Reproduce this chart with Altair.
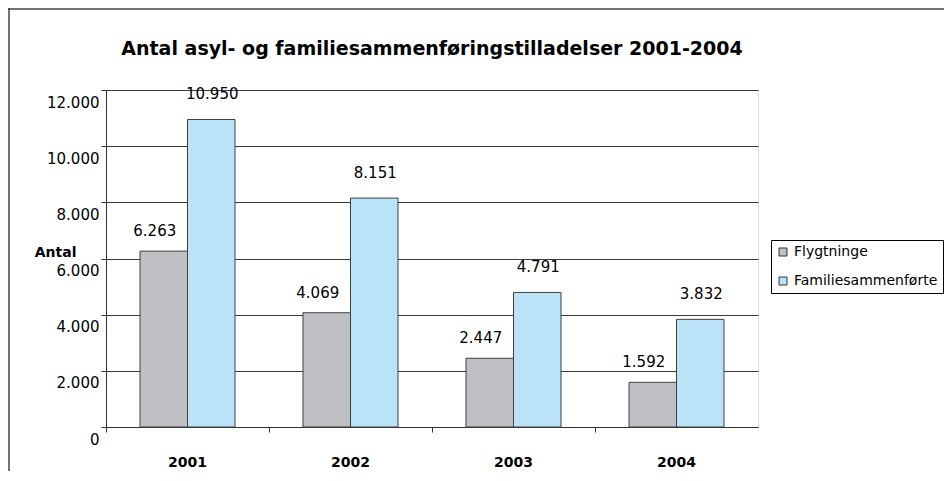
import altair as alt
import pandas as pd

years = ["2001", "2002", "2003", "2004"]
series = ["Flygtninge", "Familiesammenførte"]
flygtninge = [6263, 4069, 2447, 1592]
familie = [10950, 8151, 4791, 3832]
colors = ["#c0c0c4", "#bbe3f7"]
y_ticks = [0, 2000, 4000, 6000, 8000, 10000, 12000]
title_text = "Antal asyl- og familiesammenføringstilladelser 2001-2004"

rows = []
for i, yr in enumerate(years):
    for s, vals in zip(series, [flygtninge, familie]):
        rows.append({"year": yr, "serie": s, "value": vals[i],
                     "label": f"{vals[i]:,}".replace(",", ".")})
df = pd.DataFrame(rows)

W, H = 652, 337
PAD = {"left": 98, "top": 82, "right": 186, "bottom": 44}
FONT = "DejaVu Sans"

x_enc = alt.X("year:N", sort=years,
              scale=alt.Scale(domain=years, paddingInner=0, paddingOuter=0),
              axis=alt.Axis(title=None, labelFont=FONT, labelFontSize=14,
                            labelFontWeight="bold", labelColor="#000",
                            labelAngle=0, labelPadding=23, tickSize=5,
                            bandPosition=0,
                            domainColor="#333", tickColor="#333", grid=False))
xo_enc = alt.XOffset("serie:N", sort=series,
                     scale=alt.Scale(domain=series, paddingInner=0, paddingOuter=0.716))
y_enc = alt.Y("value:Q",
              scale=alt.Scale(domain=[0, 12000], nice=False),
              axis=alt.Axis(values=y_ticks, tickSize=5, labelPadding=2, labelOffset=12,
                            labelFont=FONT, labelFontSize=15, labelColor="#000",
                            labelExpr="replace(format(datum.value, ','), ',', '.')",
                            domainColor="#333", tickColor="#333",
                            grid=True, gridColor="#3a3a3a", gridWidth=1,
                            title="Antal", titleAngle=0, titleX=-30, titleY=162,
                            titleAlign="right", titleBaseline="middle",
                            titleFont=FONT, titleFontSize=14, titleFontWeight="bold",
                            titleColor="#000"))

base = alt.Chart(df).encode(x=x_enc, xOffset=xo_enc)

bars = base.mark_bar(stroke="#404040", strokeWidth=1).encode(
    y=y_enc,
    color=alt.Color("serie:N", sort=series,
                    scale=alt.Scale(domain=series, range=colors),
                    legend=alt.Legend(title=None, orient="none", legendX=665, legendY=150,
                                      direction="vertical",
                                      strokeColor="#000", fillColor="#fff", padding=5,
                                      labelFont=FONT, labelFontSize=14, labelColor="#000",
                                      labelOffset=4, rowPadding=15,
                                      symbolType="square", symbolSize=64,
                                      symbolStrokeColor="#333", symbolStrokeWidth=1)),
)

txt_gray = base.mark_text(dy=-20, dx=-9, font=FONT, fontSize=15, color="#000",
                          baseline="middle").encode(
    y=alt.Y("value:Q"), text="label:N"
).transform_filter(alt.datum.serie == series[0])

txt_blue = base.mark_text(dy=-25, dx=1, font=FONT, fontSize=15, color="#000",
                          baseline="middle").encode(
    y=alt.Y("value:Q"), text="label:N"
).transform_filter(alt.datum.serie == series[1])

one = pd.DataFrame({"k": [0]})
border_left = alt.Chart(one).mark_rule(color="#444", strokeWidth=1.5).encode(
    x=alt.value(-PAD["left"] + 1), y=alt.value(-PAD["top"]), y2=alt.value(H + PAD["bottom"]))
border_top = alt.Chart(one).mark_rule(color="#444", strokeWidth=1.5).encode(
    y=alt.value(-PAD["top"] + 1), x=alt.value(-PAD["left"]), x2=alt.value(W + PAD["right"]))

chart = alt.layer(bars, txt_gray, txt_blue, border_left, border_top).properties(
    width=W, height=H,
    autosize=alt.AutoSizeParams(type="none"),
    padding=PAD,
    title=alt.TitleParams(title_text, font=FONT, fontSize=19, fontWeight="bold",
                          color="#000", anchor="middle", offset=-52),
).configure_view(stroke="#808080", strokeWidth=1).configure(background="#fff")

chart.save("out.html", embed_options={"renderer": "svg", "actions": False})
